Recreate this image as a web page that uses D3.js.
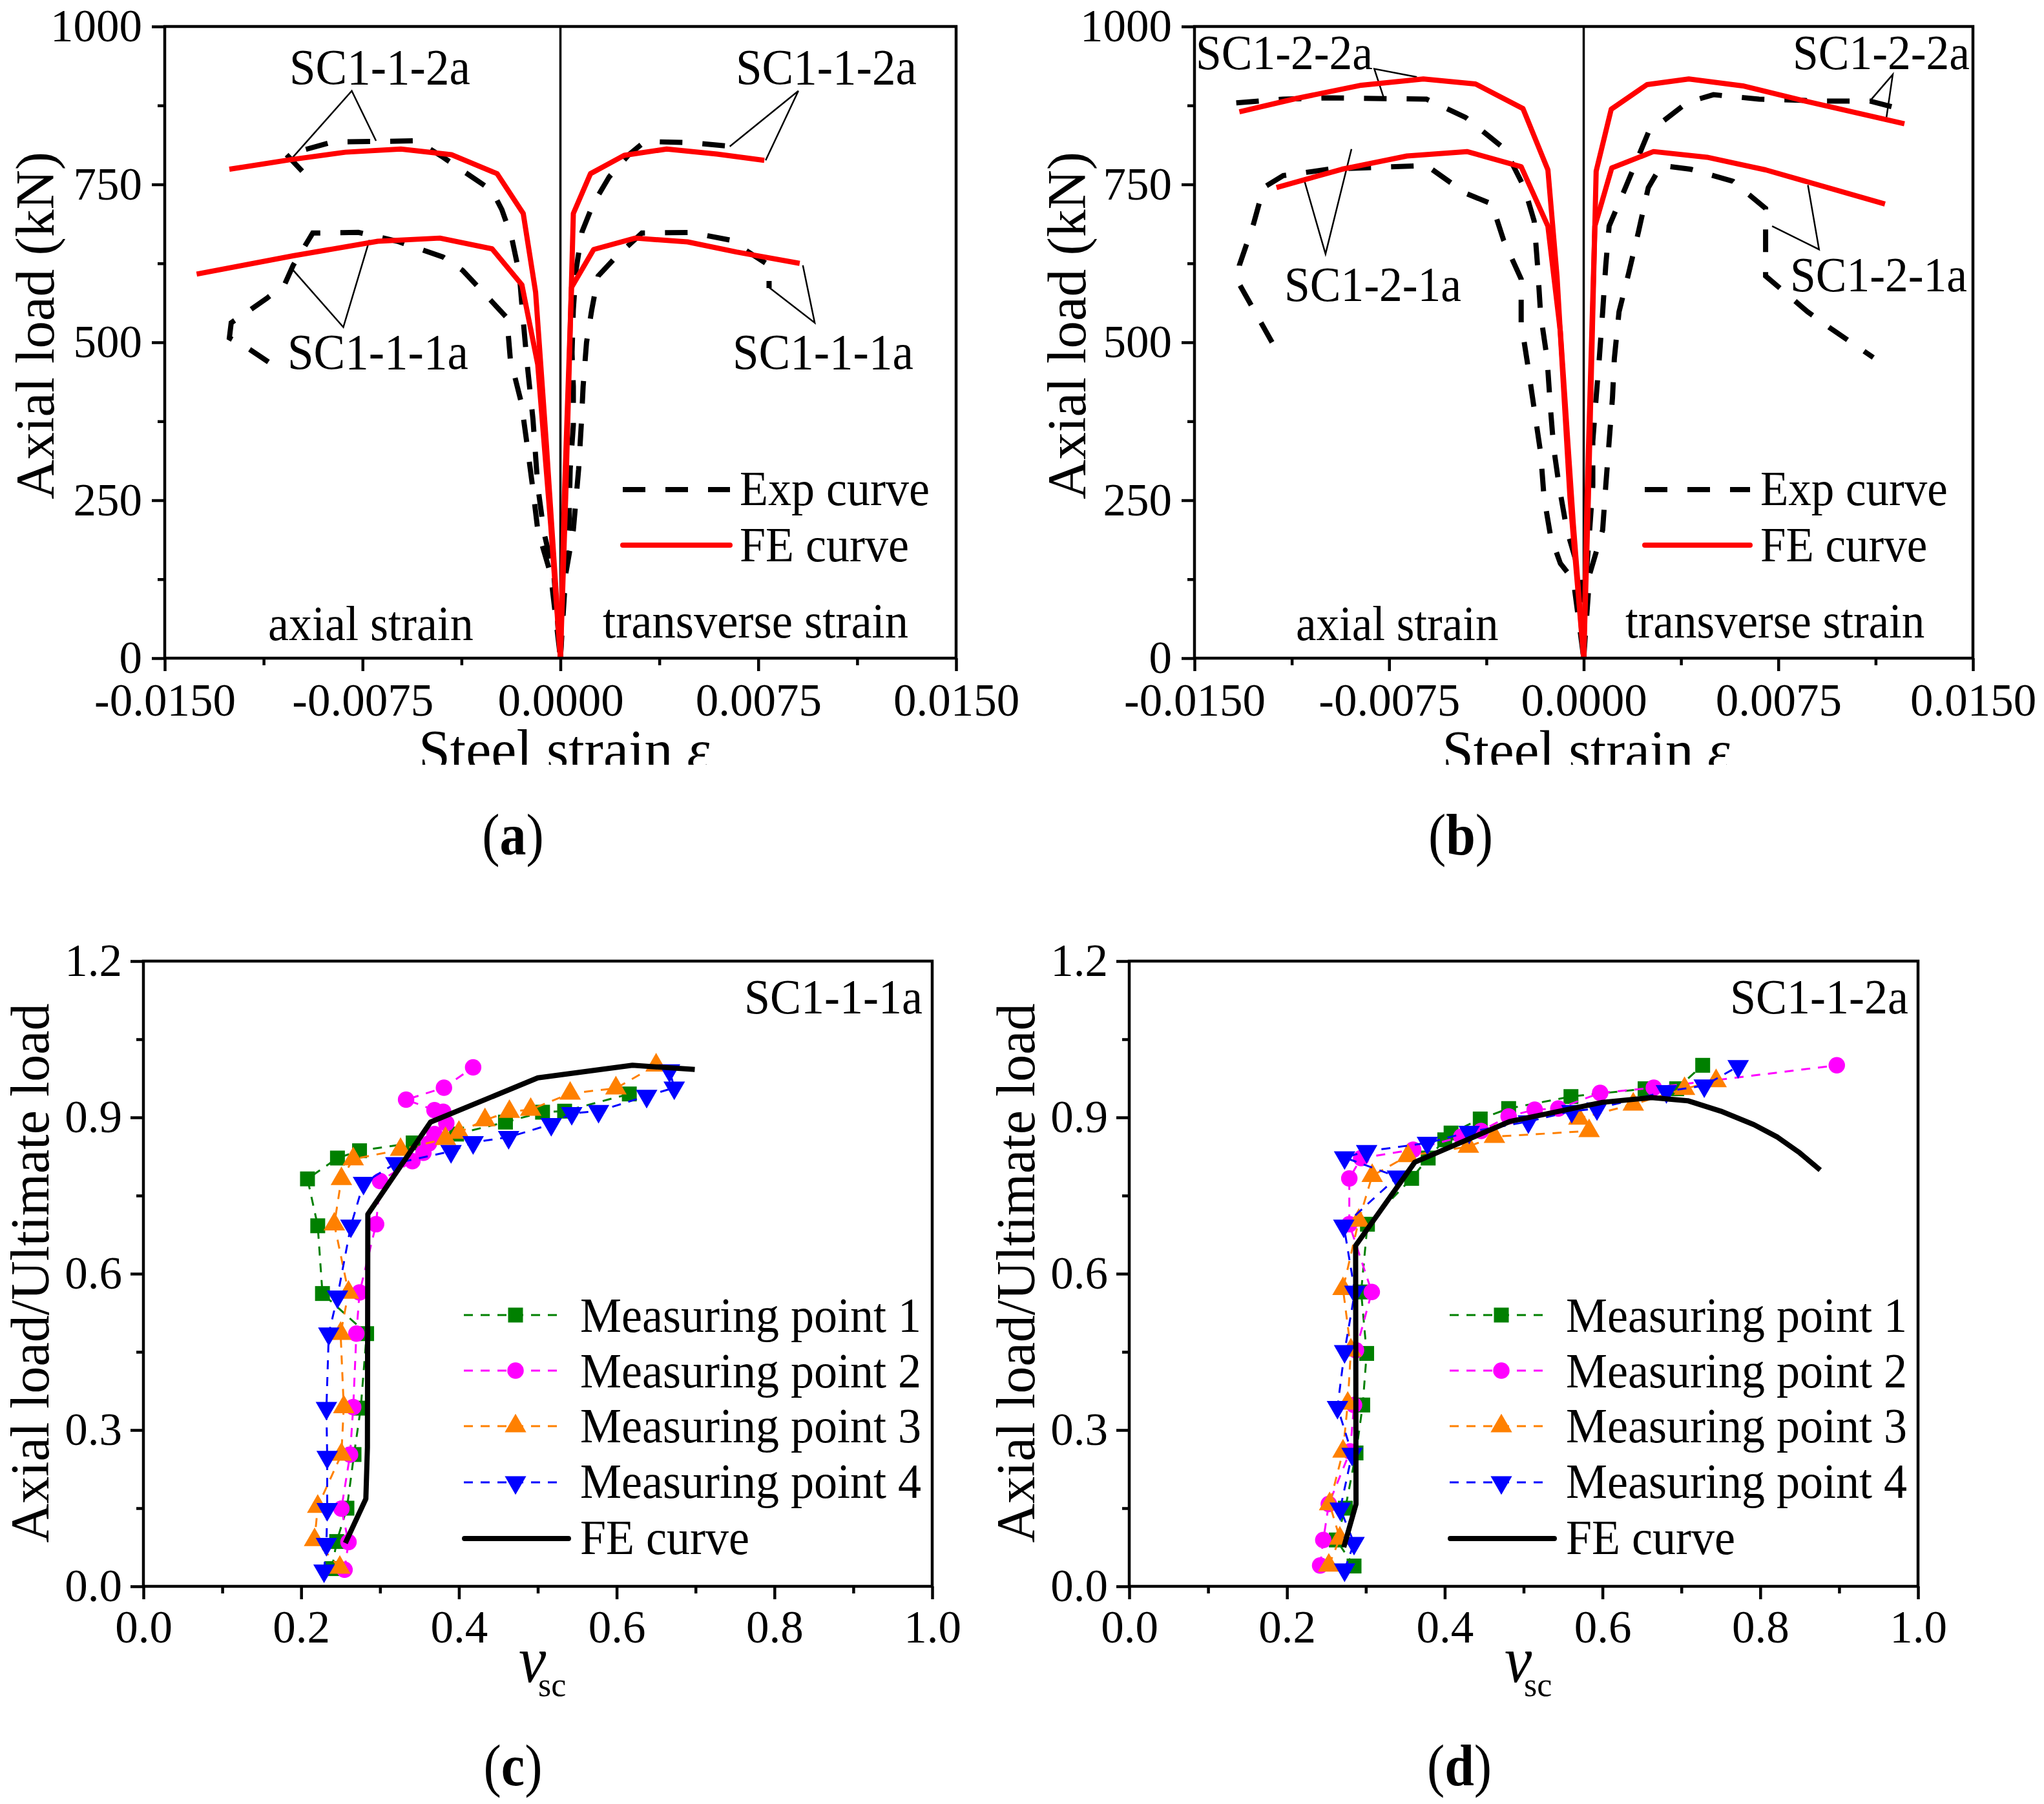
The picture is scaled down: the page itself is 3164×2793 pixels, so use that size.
<!DOCTYPE html>
<html>
<head>
<meta charset="utf-8">
<script src="https://cdnjs.cloudflare.com/ajax/libs/d3/7.8.5/d3.min.js"></script>
<style>
  body { margin: 0; background: #fff; }
  svg text { font-family: "Liberation Serif", serif; fill: #000; }
</style>
</head>
<body>
<div id="chart"></div>
<script>
const WIDTH = 3164, HEIGHT = 2793;

// ---- panel (a) : [strain, load kN]
const a_exp_1a_axial = [[-0.01107,469],[-0.01186,491],[-0.01255,507],[-0.01248,531],[-0.01174,552],[-0.01112,570],[-0.01045,592],[-0.01013,622],[-0.00939,673],[-0.00766,674],[-0.00618,660],[-0.00445,635],[-0.00371,614],[-0.00272,570],[-0.00203,539],[-0.0019,474],[-0.00148,404],[-0.00128,343],[-0.00106,273],[-0.00086,203],[-0.00037,133],[0,0]];
const a_exp_2a_axial = [[-0.00979,771],[-0.01038,797],[-0.00865,817],[-0.00544,819],[-0.00445,793],[-0.00259,740],[-0.00222,710],[-0.00185,666],[-0.00156,609],[-0.00143,544],[-0.00128,474],[-0.00104,378],[-0.00086,273],[-0.00062,198],[-0.00025,133],[0,0]];
const a_exp_2a_trans = [[0,0],[0.00015,133],[0.00032,203],[0.00037,299],[0.00049,369],[0.00049,430],[0.00044,483],[0.00049,552],[0.00059,614],[0.00082,675],[0.00124,719],[0.00185,762],[0.00259,797],[0.00321,818],[0.00494,816],[0.00655,810]];
const a_exp_1a_trans = [[0,0],[0.0002,133],[0.00049,203],[0.00069,299],[0.00079,369],[0.00086,430],[0.00099,500],[0.00119,552],[0.00143,605],[0.0021,635],[0.00309,673],[0.00494,674],[0.00642,662],[0.00791,622],[0.00791,586]];
const a_fe_2a_axial = [[-0.01255,774],[-0.01026,789],[-0.00815,801],[-0.00605,806],[-0.00413,797],[-0.0024,767],[-0.00141,704],[-0.00094,579],[-0.00054,343],[0,0]];
const a_fe_1a_axial = [[-0.01379,608],[-0.01013,637],[-0.00692,660],[-0.00457,665],[-0.00259,648],[-0.00146,591],[-0.00086,465],[-0.00037,212],[0,0]];
const a_fe_2a_trans = [[0,0],[0.0002,255],[0.00049,704],[0.00114,767],[0.00242,796],[0.00403,806],[0.00593,798],[0.00773,788]];
const a_fe_1a_trans = [[0,0],[0.00015,255],[0.00042,587],[0.00126,647],[0.00284,665],[0.00482,659],[0.00667,643],[0.00907,625]];
const a_leaders = [
  [[-0.01025,788],[-0.00791,898],[-0.00699,819]],
  [[0.00642,810],[0.00902,898],[0.00778,788]],
  [[-0.01021,618],[-0.00823,524],[-0.00724,662]],
  [[0.00791,587],[0.00964,531],[0.00919,622]]
];

// ---- panel (b)
const b_exp_2a_axial = [[-0.01339,879],[-0.01158,885],[-0.00983,887],[-0.00606,885],[-0.00455,856],[-0.00304,806],[-0.00229,745],[-0.00191,692],[-0.00178,622],[-0.00166,544],[-0.00141,474],[-0.00128,395],[-0.00116,334],[-0.00095,273],[-0.00065,203],[-0.00015,133],[0,0]];
const b_exp_1a_axial = [[-0.01201,500],[-0.01272,552],[-0.01327,592],[-0.01327,622],[-0.01272,688],[-0.01234,745],[-0.01158,764],[-0.00983,774],[-0.00606,780],[-0.00455,736],[-0.00354,719],[-0.00309,662],[-0.00241,600],[-0.00241,531],[-0.00216,465],[-0.00191,395],[-0.00166,325],[-0.00153,255],[-0.00128,194],[-0.0009,150],[-0.0004,124],[0,0]];
const b_exp_1a_trans = [[0,0],[0.00023,133],[0.00073,203],[0.00085,273],[0.00098,343],[0.00111,413],[0.00118,474],[0.00136,548],[0.00173,609],[0.00211,675],[0.00249,745],[0.00299,780],[0.00412,774],[0.00575,755],[0.00701,712],[0.00701,605],[0.00864,548],[0.00952,522],[0.01116,476]];
const b_exp_2a_trans = [[0,0],[0.0001,133],[0.00023,203],[0.00035,273],[0.00035,343],[0.00048,413],[0.0006,474],[0.00073,548],[0.00085,622],[0.00098,684],[0.00161,745],[0.00249,832],[0.004,880],[0.005,892],[0.00676,885],[0.00927,882],[0.01103,882],[0.01216,870]];
const b_fe_2a_axial = [[-0.01327,865],[-0.01108,886],[-0.00857,907],[-0.00618,917],[-0.00417,909],[-0.00234,870],[-0.00138,773],[-0.00103,605],[-0.00053,255],[0,0]];
const b_fe_1a_axial = [[-0.01184,745],[-0.00932,774],[-0.00681,795],[-0.0045,802],[-0.00241,778],[-0.00138,684],[-0.0009,517],[-0.0004,212],[0,0]];
const b_fe_2a_trans = [[0,0],[0.00018,255],[0.00048,771],[0.00106,869],[0.00244,908],[0.00405,917],[0.00613,906],[0.00852,882],[0.01236,846]];
const b_fe_1a_trans = [[0,0],[0.00013,255],[0.00043,684],[0.00108,776],[0.00269,802],[0.00475,793],[0.00701,773],[0.01161,719]];
const b_leaders = [
  [[-0.00643,920],[-0.00807,933],[-0.00769,885]],
  [[0.01103,882],[0.01191,924],[0.01166,854]],
  [[-0.01078,758],[-0.00995,640],[-0.00895,806]],
  [[0.00726,684],[0.00907,647],[0.00864,749]]
];

// ---- panel (c) : [v_sc, load ratio]
const c_mp1 = [[0.239,0.034],[0.245,0.086],[0.258,0.15],[0.267,0.253],[0.2755,0.342],[0.283,0.485],[0.227,0.562],[0.221,0.692],[0.208,0.782],[0.246,0.822],[0.274,0.836],[0.342,0.851],[0.397,0.868],[0.459,0.891],[0.506,0.91],[0.534,0.912],[0.616,0.945]];
const c_mp2 = [[0.255,0.032],[0.26,0.085],[0.251,0.149],[0.262,0.253],[0.266,0.344],[0.27,0.485],[0.274,0.564],[0.295,0.695],[0.3,0.778],[0.341,0.816],[0.355,0.832],[0.362,0.85],[0.369,0.868],[0.384,0.889],[0.38,0.911],[0.369,0.914],[0.333,0.934],[0.381,0.957],[0.418,0.996]];
const c_mp3 = [[0.249,0.036],[0.217,0.089],[0.221,0.153],[0.251,0.253],[0.254,0.344],[0.25,0.485],[0.26,0.564],[0.242,0.695],[0.251,0.782],[0.266,0.82],[0.326,0.838],[0.383,0.859],[0.4,0.871],[0.433,0.895],[0.464,0.911],[0.491,0.915],[0.541,0.946],[0.599,0.956],[0.65,1.0]];
const c_mp4 = [[0.229,0.03],[0.232,0.081],[0.233,0.148],[0.233,0.248],[0.232,0.342],[0.235,0.485],[0.246,0.556],[0.263,0.692],[0.279,0.774],[0.32,0.812],[0.39,0.835],[0.418,0.852],[0.463,0.862],[0.517,0.887],[0.543,0.908],[0.577,0.912],[0.638,0.941],[0.673,0.957],[0.667,0.99]];
const c_fe = [[0.256,0.083],[0.282,0.168],[0.284,0.267],[0.2845,0.714],[0.364,0.891],[0.5,0.976],[0.62,1.0],[0.699,0.992]];

// ---- panel (d)
const d_mp1 = [[0.285,0.039],[0.2625,0.089],[0.274,0.15],[0.2875,0.256],[0.296,0.348],[0.301,0.447],[0.294,0.565],[0.302,0.695],[0.358,0.783],[0.379,0.822],[0.4,0.857],[0.408,0.87],[0.445,0.897],[0.481,0.917],[0.56,0.94],[0.654,0.955],[0.694,0.955],[0.727,1.0]];
const d_mp2 = [[0.242,0.04],[0.246,0.089],[0.253,0.158],[0.28,0.259],[0.285,0.348],[0.2875,0.453],[0.3075,0.565],[0.279,0.695],[0.279,0.783],[0.294,0.822],[0.36,0.838],[0.421,0.863],[0.446,0.874],[0.481,0.902],[0.514,0.915],[0.544,0.917],[0.597,0.947],[0.665,0.957],[0.897,1.0]];
const d_mp3 = [[0.253,0.04],[0.267,0.092],[0.254,0.158],[0.271,0.259],[0.277,0.351],[0.281,0.453],[0.271,0.571],[0.291,0.702],[0.308,0.788],[0.353,0.826],[0.43,0.844],[0.463,0.863],[0.583,0.874],[0.57,0.898],[0.639,0.925],[0.704,0.955],[0.744,0.97]];
const d_mp4 = [[0.273,0.032],[0.285,0.083],[0.2675,0.149],[0.2825,0.254],[0.264,0.344],[0.273,0.451],[0.286,0.565],[0.272,0.692],[0.34,0.786],[0.273,0.823],[0.301,0.835],[0.378,0.851],[0.431,0.872],[0.506,0.892],[0.561,0.912],[0.593,0.917],[0.681,0.95],[0.729,0.961],[0.772,0.998]];
const d_fe = [[0.272,0.075],[0.2875,0.158],[0.287,0.654],[0.362,0.814],[0.482,0.892],[0.6,0.929],[0.662,0.938],[0.708,0.932],[0.75,0.912],[0.792,0.886],[0.822,0.862],[0.85,0.832],[0.876,0.799]];

// ticks + labels
const strainTicks = [-0.015,-0.0075,0,0.0075,0.015];
const strainLabels = ["-0.0150","-0.0075","0.0000","0.0075","0.0150"];
const strainMinor = [-0.01125,-0.00375,0.00375,0.01125];
const loadTicks = [0,250,500,750,1000];
const loadMinor = [125,375,625,875];
const ratioTicks = [0,0.3,0.6,0.9,1.2];
const ratioLabels = ["0.0","0.3","0.6","0.9","1.2"];
const ratioMinor = [0.15,0.45,0.75,1.05];
const vTicks = [0,0.2,0.4,0.6,0.8,1.0];
const vLabels = ["0.0","0.2","0.4","0.6","0.8","1.0"];
const vMinor = [0.1,0.3,0.5,0.7,0.9];
const mpNames = ["Measuring point 1","Measuring point 2","Measuring point 3","Measuring point 4"];

const GREEN = "#008000", MAGENTA = "#ff00ff", ORANGE = "#ff8000", BLUE = "#0000ff", RED = "#ff0000";
const mpStyle = [
  {color: GREEN, sym: d3.symbolSquare, size: 530, rot: 0},
  {color: MAGENTA, sym: d3.symbolCircle, size: 510, rot: 0},
  {color: ORANGE, sym: d3.symbolTriangle, size: 480, rot: 0},
  {color: BLUE, sym: d3.symbolTriangle, size: 480, rot: 180}
];

const svg = d3.select("#chart").append("svg")
  .attr("width", WIDTH).attr("height", HEIGHT).style("display", "block");

svg.append("defs").append("clipPath").attr("id", "cutTitle")
  .append("rect").attr("x", 0).attr("y", 0).attr("width", WIDTH).attr("height", 1184);

// text a bit taller than wide, the source image was stretched
function txt(parent, x, y, s, size, k = 1.06) {
  return parent.append("text")
    .attr("transform", `translate(${x},${y}) scale(1,${k})`)
    .attr("font-size", size)
    .text(s);
}

function axes(box, xs, ys, o) {
  const g = svg.append("g");
  g.append("rect").attr("x", box.x0).attr("y", box.y0)
    .attr("width", box.x1 - box.x0).attr("height", box.y1 - box.y0)
    .attr("fill", "none").attr("stroke", "#000").attr("stroke-width", 4.5);

  const bot = g.append("g").attr("transform", `translate(0,${box.y1})`)
    .call(d3.axisBottom(xs).tickValues(o.xTicks).tickSize(20).tickSizeOuter(0).tickPadding(o.padX)
      .tickFormat((d, i) => o.xLabels[i]));
  bot.append("g").call(d3.axisBottom(xs).tickValues(o.xMinor).tickSize(11).tickSizeOuter(0).tickFormat(""));

  const lft = g.append("g").attr("transform", `translate(${box.x0},0)`)
    .call(d3.axisLeft(ys).tickValues(o.yTicks).tickSize(20).tickSizeOuter(0).tickPadding(o.padY)
      .tickFormat((d, i) => o.yLabels[i]));
  lft.append("g").call(d3.axisLeft(ys).tickValues(o.yMinor).tickSize(11).tickSizeOuter(0).tickFormat(""));

  g.selectAll(".domain").attr("stroke", "none");
  g.selectAll(".tick line").attr("stroke", "#000").attr("stroke-width", 4.5);
  g.selectAll(".tick text").attr("font-size", o.fs).attr("font-family", '"Liberation Serif", serif').attr("fill", "#000");
}

function strainPanel(box, curves, leaders, t) {
  const x = d3.scaleLinear().domain([-0.015, 0.015]).range([box.x0, box.x1]);
  const y = d3.scaleLinear().domain([0, 1000]).range([box.y1, box.y0]);
  const line = d3.line().x(d => x(d[0])).y(d => y(d[1]));

  svg.append("line").attr("x1", x(0)).attr("x2", x(0)).attr("y1", box.y0).attr("y2", box.y1)
    .attr("stroke", "#000").attr("stroke-width", 3.5);

  curves.exp.forEach(c => svg.append("path").attr("d", line(c)).attr("fill", "none")
    .attr("stroke", "#000").attr("stroke-width", 8).attr("stroke-dasharray", "35 31"));
  leaders.forEach(c => svg.append("path").attr("d", line(c)).attr("fill", "none")
    .attr("stroke", "#000").attr("stroke-width", 2.5));
  curves.fe.forEach(c => svg.append("path").attr("d", line(c)).attr("fill", "none")
    .attr("stroke", RED).attr("stroke-width", 8).attr("stroke-linejoin", "round"));

  axes(box, x, y, {xTicks: strainTicks, xLabels: strainLabels, xMinor: strainMinor,
    yTicks: loadTicks, yLabels: loadTicks.map(String), yMinor: loadMinor, padX: 19, padY: 15, fs: 71});

  t.labels.forEach(l => txt(svg, l[0], l[1], l[2], t.nameFs));
  txt(svg, t.axial, 991, "axial strain", t.axialFs);
  txt(svg, t.trans, 987, "transverse strain", t.transFs);

  // legend
  svg.append("line").attr("x1", t.leg[0]).attr("x2", t.leg[1]).attr("y1", 758).attr("y2", 758)
    .attr("stroke", "#000").attr("stroke-width", 8).attr("stroke-dasharray", "35 31");
  svg.append("line").attr("x1", t.leg[0]).attr("x2", t.leg[1]).attr("y1", 844).attr("y2", 844)
    .attr("stroke", RED).attr("stroke-width", 8).attr("stroke-linecap", "round");
  txt(svg, t.leg[2], 782, "Exp curve", t.legFs);
  txt(svg, t.leg[2], 869, "FE curve", t.legFs);

  // axis titles
  svg.append("text").attr("transform", `translate(${t.yt},504) rotate(-90)`)
    .attr("text-anchor", "middle").attr("font-size", 85).text("Axial load (kN)");
  const st = svg.append("g").attr("clip-path", "url(#cutTitle)").append("text")
    .attr("x", t.xt).attr("y", 1191).attr("text-anchor", "middle").attr("font-size", t.xtFs);
  st.append("tspan").text("Steel strain ");
  st.append("tspan").attr("font-style", "italic").text("ε");

  panelTag(t.tag[0], 1323, t.tag[1]);
}

function ratioPanel(box, series, fe, t) {
  const x = d3.scaleLinear().domain([0, 1]).range([box.x0, box.x1]);
  const y = d3.scaleLinear().domain([0, 1.2]).range([box.y1, box.y0]);
  const line = d3.line().x(d => x(d[0])).y(d => y(d[1]));

  series.forEach((s, i) => {
    const st = mpStyle[i];
    svg.append("path").attr("d", line(s)).attr("fill", "none")
      .attr("stroke", st.color).attr("stroke-width", 3).attr("stroke-dasharray", "14 12");
    svg.append("g").selectAll("path").data(s).join("path")
      .attr("d", d3.symbol(st.sym, st.size))
      .attr("transform", d => `translate(${x(d[0])},${y(d[1])}) rotate(${st.rot})`)
      .attr("fill", st.color);
  });
  svg.append("path").attr("d", line(fe)).attr("fill", "none")
    .attr("stroke", "#000").attr("stroke-width", 8).attr("stroke-linejoin", "round");

  axes(box, x, y, {xTicks: vTicks, xLabels: vLabels, xMinor: vMinor,
    yTicks: ratioTicks, yLabels: ratioLabels, yMinor: ratioMinor, padX: 17, padY: 13, fs: 71});

  // legend
  const dx = box.x0 - 222;
  const rows = [2036, 2122, 2208, 2295];
  const bases = [2062, 2148, 2233, 2319];
  rows.forEach((ry, i) => {
    const st = mpStyle[i];
    svg.append("line").attr("x1", 718 + dx).attr("x2", 874 + dx).attr("y1", ry).attr("y2", ry)
      .attr("stroke", st.color).attr("stroke-width", 3).attr("stroke-dasharray", "14 12");
    svg.append("path").attr("d", d3.symbol(st.sym, st.size))
      .attr("transform", `translate(${798 + dx},${ry}) rotate(${st.rot})`).attr("fill", st.color);
    txt(svg, 898 + dx, bases[i], mpNames[i], 72);
  });
  svg.append("line").attr("x1", 719 + dx).attr("x2", 880 + dx).attr("y1", 2382).attr("y2", 2382)
    .attr("stroke", "#000").attr("stroke-width", 8).attr("stroke-linecap", "round");
  txt(svg, 898 + dx, 2406, "FE curve", 72);

  txt(svg, box.x1 - 15, 1569, t.name, 72).attr("text-anchor", "end");

  svg.append("text").attr("transform", `translate(${75 + dx},1971) rotate(-90)`)
    .attr("text-anchor", "middle").attr("font-size", 84).text("Axial load/Ultimate load");
  txt(svg, 824 + dx, 2604, "ν", 95).attr("font-style", "italic").attr("text-anchor", "middle");
  txt(svg, 833 + dx, 2626, "sc", 52, 1.0);

  panelTag(t.tag[0], 2764, t.tag[1]);
}

function panelTag(cx, by, letter) {
  const t = txt(svg, cx, by, "(", 82, 1.1).attr("text-anchor", "middle");
  t.append("tspan").attr("font-weight", "bold").text(letter);
  t.append("tspan").text(")");
}

strainPanel({x0: 255, x1: 1480, y0: 41, y1: 1019},
  {exp: [a_exp_1a_axial, a_exp_2a_axial, a_exp_2a_trans, a_exp_1a_trans],
   fe: [a_fe_2a_axial, a_fe_1a_axial, a_fe_2a_trans, a_fe_1a_trans]},
  a_leaders,
  {labels: [[448,130,"SC1-1-2a"],[1139,130,"SC1-1-2a"],[445,571,"SC1-1-1a"],[1134,571,"SC1-1-1a"]],
   nameFs: 73, axial: 415, axialFs: 72, trans: 933, transFs: 72.5, leg: [964,1130,1145], legFs: 72,
   yt: 83, xt: 873, xtFs: 88, tag: [794,"a"]});

strainPanel({x0: 1849, x1: 3054, y0: 41, y1: 1019},
  {exp: [b_exp_1a_axial, b_exp_2a_axial, b_exp_2a_trans, b_exp_1a_trans],
   fe: [b_fe_2a_axial, b_fe_1a_axial, b_fe_2a_trans, b_fe_1a_trans]},
  b_leaders,
  {labels: [[1851,107,"SC1-2-2a"],[2775,107,"SC1-2-2a"],[1988,466,"SC1-2-1a"],[2771,451,"SC1-2-1a"]],
   nameFs: 71.5, axial: 2006, axialFs: 71, trans: 2516, transFs: 71, leg: [2546,2709,2725], legFs: 71,
   yt: 1680, xt: 2455, xtFs: 87, tag: [2261,"b"]});

ratioPanel({x0: 222, x1: 1443, y0: 1488, y1: 2456}, [c_mp1,c_mp2,c_mp3,c_mp4], c_fe, {name: "SC1-1-1a", tag: [794,"c"]});
ratioPanel({x0: 1748, x1: 2969, y0: 1488, y1: 2456}, [d_mp1,d_mp2,d_mp3,d_mp4], d_fe, {name: "SC1-1-2a", tag: [2259,"d"]});
</script>
</body>
</html>
